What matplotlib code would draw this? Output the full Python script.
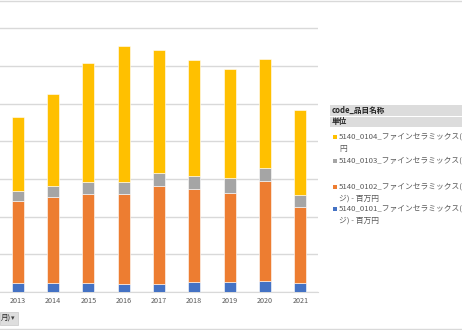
import matplotlib.pyplot as plt
from matplotlib.patches import Rectangle
import matplotlib.lines as mlines

plt.rcParams['font.family'] = ['Noto Sans CJK JP', 'DejaVu Sans']

years = ['2013', '2014', '2015', '2016', '2017', '2018', '2019', '2020', '2021']
# 百万円
s0101 = [1150, 1190, 1150, 1060, 1060, 1330, 1370, 1460, 1190]
s0102 = [10900, 11400, 11840, 11930, 13030, 12330, 11800, 13220, 10040]
s0103 = [1290, 1500, 1630, 1590, 1720, 1680, 1990, 1800, 1630]
s0104 = [9850, 12160, 15780, 18070, 16310, 15380, 14370, 14410, 11230]

series = [
    ('5140_0101', s0101, '#4472C4'),
    ('5140_0102', s0102, '#ED7D31'),
    ('5140_0103', s0103, '#A5A5A5'),
    ('5140_0104', s0104, '#FFC000'),
]

W, H = 462, 330
fig = plt.figure(figsize=(W / 100, H / 100), dpi=100)


def fx(x):
    return x / W


def fy(y):
    return 1 - y / H


ax = fig.add_axes([0, fy(292), fx(318), 292 / H])

bottom = [0] * len(years)
x = range(len(years))
for name, vals, col in series:
    ax.bar(x, vals, width=0.34, bottom=bottom, color=col,
           edgecolor='#ffffff', linewidth=0.4, zorder=3)
    bottom = [b + v for b, v in zip(bottom, vals)]

ax.set_xlim(-0.5, 8.5)
ax.set_ylim(0, 292 / 37.7 * 5000)
ax.set_yticks(range(0, 40000, 5000))
ax.yaxis.grid(True, color='#d9d9d9', linewidth=1)
ax.set_yticklabels([])
ax.tick_params(axis='y', length=0)
ax.set_xticks(list(x))
ax.set_xticklabels(years, fontsize=5.2, color='#595959')
ax.tick_params(axis='x', length=0, pad=3.5)
for s in ['top', 'left', 'right']:
    ax.spines[s].set_visible(False)
ax.spines['bottom'].set_color('#d9d9d9')

# top border line and bottom line
fig.add_artist(mlines.Line2D([0, 1], [fy(0.8), fy(0.8)], color='#d9d9d9', linewidth=1))
fig.add_artist(mlines.Line2D([0, 1], [fy(329), fy(329)], color='#d9d9d9', linewidth=1))

# field button bottom-left
fig.add_artist(Rectangle((0, fy(324.5)), fx(17.7), (324.5 - 311.7) / H,
                         facecolor='#dedede', edgecolor='#c8c8c8', linewidth=0.5))
fig.text(fx(0.5), fy(318), '月)', fontsize=5.5, color='#262626', va='center', ha='left')
fig.text(fx(12.8), fy(318.5), '▾', fontsize=5, color='#404040', va='center', ha='center',
         family='DejaVu Sans')

# legend headers
fig.add_artist(Rectangle((fx(330), fy(115.7)), fx(132), 10.7 / H,
                         facecolor='#dcdcdc', edgecolor='none'))
fig.add_artist(Rectangle((fx(330), fy(127.3)), fx(132), 10.3 / H,
                         facecolor='#dcdcdc', edgecolor='none'))
fig.text(fx(332), fy(110.5), 'code_品目名称', fontsize=5.5, color='#262626',
         va='center', ha='left', fontweight='bold')
fig.text(fx(332), fy(122), '単位', fontsize=5.5, color='#262626',
         va='center', ha='left', fontweight='bold')

legend_rows = [
    (136.5, '#FFC000', '5140_0104_ファインセラミックス(', 149, '円'),
    (160.5, '#A5A5A5', '5140_0103_ファインセラミックス(', None, None),
    (186.5, '#ED7D31', '5140_0102_ファインセラミックス(', 198.3, 'ジ) - 百万円'),
    (209, '#4472C4', '5140_0101_ファインセラミックス(', 220.7, 'ジ) - 百万円'),
]
for yy, col, t1, y2, t2 in legend_rows:
    fig.add_artist(Rectangle((fx(333), fy(yy + 2)), fx(4), 4 / H,
                             facecolor=col, edgecolor='none'))
    fig.text(fx(339), fy(yy), t1, fontsize=5.6, color='#595959', va='center', ha='left')
    if t2:
        fig.text(fx(339), fy(y2), t2, fontsize=5.6, color='#595959', va='center', ha='left')

fig.savefig('out.png', dpi=100)
